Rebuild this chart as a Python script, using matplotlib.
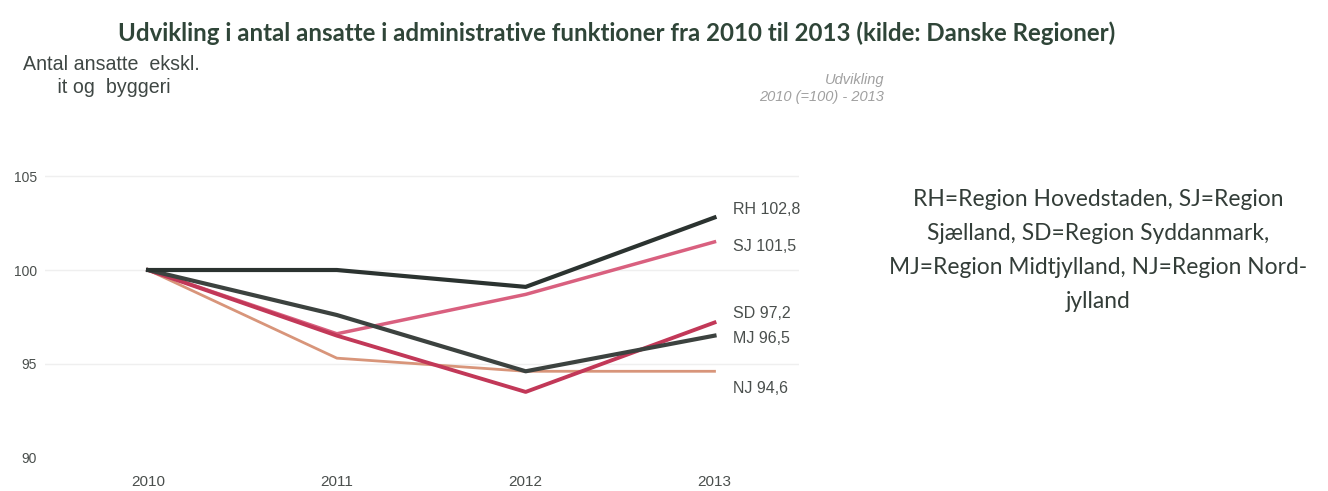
import matplotlib.pyplot as plt

years = [2010, 2011, 2012, 2013]
regions = ["NJ", "SJ", "SD", "MJ", "RH"]
values = {
    "RH": [100, 100, 99.1, 102.8],
    "SJ": [100, 96.6, 98.7, 101.5],
    "SD": [100, 96.5, 93.5, 97.2],
    "MJ": [100, 97.6, 94.6, 96.5],
    "NJ": [100, 95.3, 94.6, 94.6],
}
label_offset = {"RH": 0.4, "SJ": -0.25, "SD": 0.5, "MJ": -0.15, "NJ": -0.9}
colors = {
    "RH": "#2b3330",
    "MJ": "#3c423f",
    "SJ": "#d9607f",
    "SD": "#c23858",
    "NJ": "#d8957a",
}
widths = {"RH": 3.0, "MJ": 3.0, "SJ": 2.5, "SD": 2.8, "NJ": 2.0}
yticks = [90, 95, 100, 105]

fig = plt.figure(figsize=(13.28, 4.91), dpi=100)
ax = fig.add_axes([0.034, 0.049, 0.568, 0.615])
renderer = fig.canvas.get_renderer()


def fit_width(txt, target_px):
    # scale the font so the text spans about target_px
    w = txt.get_window_extent(renderer).width
    txt.set_fontsize(txt.get_fontsize() * target_px / w)


for v in [95, 100, 105]:
    ax.axhline(v, color="#efefef", linewidth=1, zorder=0)

for r in regions:
    ax.plot(years, values[r], color=colors[r], linewidth=widths[r], zorder=2)
    last = values[r][-1]
    ax.text(2013.1, last + label_offset[r], f"{r} {last:.1f}".replace(".", ","),
            fontsize=11.5, family="Liberation Sans", color="#4a4f4d", va="center", ha="left")

ax.set_xlim(2009.455, 2013.45)
ax.set_ylim(89.5, 105.6)
ax.set_xticks(years, [str(y) for y in years])
ax.set_yticks(yticks, [str(y) for y in yticks])
ax.tick_params(axis="both", length=0, colors="#4a4f4d")
ax.tick_params(axis="y", pad=6, labelsize=10)
ax.tick_params(axis="x", pad=6, labelsize=11)
for lbl in ax.get_xticklabels() + ax.get_yticklabels():
    lbl.set_family("Liberation Sans")
for s in ax.spines.values():
    s.set_visible(False)

title = fig.text(0.464, 0.933,
                 "Udvikling i antal ansatte i administrative funktioner fra 2010 til 2013 (kilde: Danske Regioner)",
                 ha="center", va="center", fontsize=15, fontweight="bold", family="Lato", color="#2f4538")
fit_width(title, 997)

ylab = fig.text(0.084, 0.845, "Antal ansatte  ekskl.\n it og  byggeri", ha="center", va="center",
                fontsize=12, family="Liberation Sans", color="#3f4744", linespacing=1.3)
fit_width(ylab, 176)

fig.text(0.666, 0.82, "Udvikling\n2010 (=100) - 2013", ha="right", va="center",
         fontsize=10.5, family="Liberation Sans", style="italic", color="#a0a0a0", linespacing=1.25)

legend_txt = fig.text(0.827, 0.49,
                      "RH=Region Hovedstaden, SJ=Region\nSjælland, SD=Region Syddanmark,\n"
                      "MJ=Region Midtjylland, NJ=Region Nord-\njylland",
                      ha="center", va="center", fontsize=15, family="Lato", color="#333d38",
                      linespacing=1.75)
fit_width(legend_txt, 417)

fig.savefig("out.png", dpi=100, facecolor="white")
